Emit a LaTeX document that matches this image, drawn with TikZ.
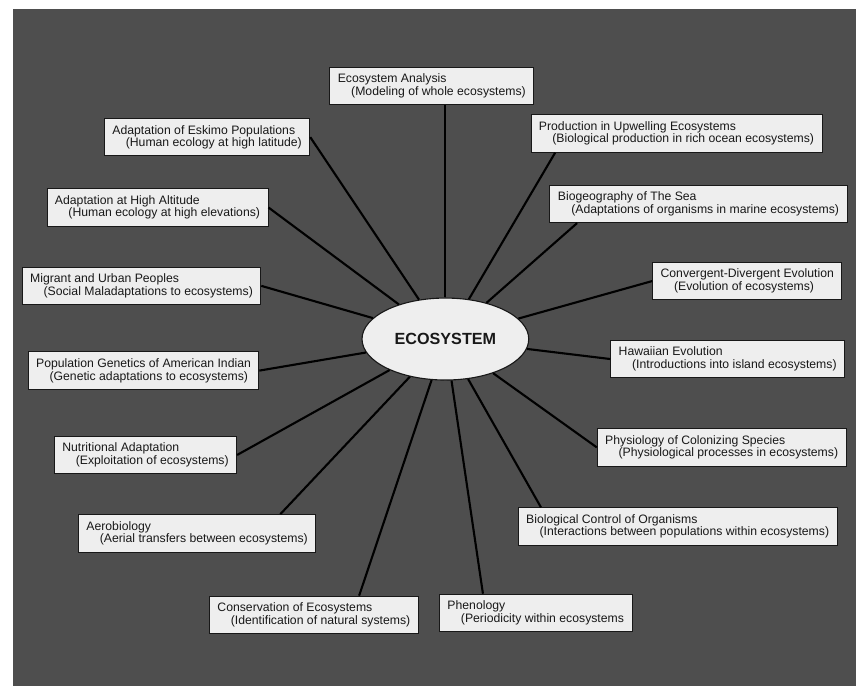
\documentclass[tikz,border=0pt]{standalone}
\usepackage{fontspec}
\setmainfont{Liberation Sans}
\usetikzlibrary{shapes.geometric}

\definecolor{panelgray}{RGB}{78,78,78}
\definecolor{paper}{RGB}{238,238,238}
\definecolor{ink}{RGB}{24,24,24}

\newcommand\ecobox[2]{#1\\\hspace*{1.1em}#2}

\tikzset{
  topic/.style={draw=ink, line width=0.6pt, fill=paper, text=ink, align=left,
    font=\fontsize{8.7}{8.9}\selectfont, inner xsep=0.2cm, inner ysep=0.1cm,
    minimum height=0.94cm},
  hub/.style={ellipse, draw=ink, line width=0.8pt, fill=paper, text=ink,
    minimum width=4.17cm, minimum height=2.05cm,
    font=\fontsize{11.5}{11.5}\selectfont\bfseries},
  spoke/.style={line width=1.5pt, black}
}

\begin{document}
\begin{tikzpicture}
\useasboundingbox (-11.14,8.48) rectangle (10.27,-8.68);
\fill[white] (-11.14,8.48) rectangle (10.27,-8.68);
\fill[panelgray] (-10.81,8.25) rectangle (10.27,-8.68);

\node[hub] (eco) at (0,0) {ECOSYSTEM};

\node[topic] (ana) at (-0.34,6.33) {\ecobox{Ecosystem Analysis}{(Modeling of whole ecosystems)}};
\node[topic] (eskimo) at (-5.96,5.05) {\ecobox{Adaptation of Eskimo Populations}{(Human ecology at high latitude)}};
\node[topic] (altitude) at (-7.2,3.29) {\ecobox{Adaptation at High Altitude}{(Human ecology at high elevations)}};
\node[topic] (migrant) at (-7.6,1.33) {\ecobox{Migrant and Urban Peoples}{(Social Maladaptations to ecosystems)}};
\node[topic] (genetics) at (-7.55,-0.79) {\ecobox{Population Genetics of American Indian}{(Genetic adaptations to ecosystems)}};
\node[topic] (nutrition) at (-7.5,-2.9) {\ecobox{Nutritional Adaptation}{(Exploitation of ecosystems)}};
\node[topic] (aero) at (-6.21,-4.86) {\ecobox{Aerobiology}{(Aerial transfers between ecosystems)}};
\node[topic] (conserv) at (-3.29,-6.9) {\ecobox{Conservation of Ecosystems}{(Identification of natural systems)}};
\node[topic] (pheno) at (2.26,-6.85) {\ecobox{Phenology}{(Periodicity within ecosystems}};
\node[topic] (control) at (5.81,-4.69) {\ecobox{Biological Control of Organisms}{(Interactions between populations within ecosystems)}};
\node[topic] (colonize) at (6.91,-2.71) {\ecobox{Physiology of Colonizing Species}{(Physiological processes in ecosystems)}};
\node[topic] (hawaii) at (7.06,-0.5) {\ecobox{Hawaiian Evolution}{(Introductions into island ecosystems)}};
\node[topic] (converge) at (7.55,1.45) {\ecobox{Convergent-Divergent Evolution}{(Evolution of ecosystems)}};
\node[topic] (sea) at (6.33,3.38) {\ecobox{Biogeography of The Sea}{(Adaptations of organisms in marine ecosystems)}};
\node[topic] (upwell) at (5.78,5.14) {\ecobox{Production in Upwelling Ecosystems}{(Biological production in rich ocean ecosystems)}};

\draw[spoke] (eco) -- (eco |- ana.south);
\draw[spoke] (eco) -- (eskimo.east);
\draw[spoke] (eco) -- (altitude.east);
\draw[spoke] (eco) -- (migrant.east);
\draw[spoke] (eco) -- (genetics.east);
\draw[spoke] (eco) -- (nutrition.east);
\draw[spoke] (eco) -- (aero.13);
\draw[spoke] (eco) -- (conserv.23);
\draw[spoke] (eco) -- (pheno.160);
\draw[spoke] (eco) -- (control.172);
\draw[spoke] (eco) -- (colonize.west);
\draw[spoke] (eco) -- (hawaii.west);
\draw[spoke] (eco) -- (converge.west);
\draw[spoke] (eco) -- (sea.189);
\draw[spoke] (eco) -- (upwell.189);
\end{tikzpicture}
\end{document}
